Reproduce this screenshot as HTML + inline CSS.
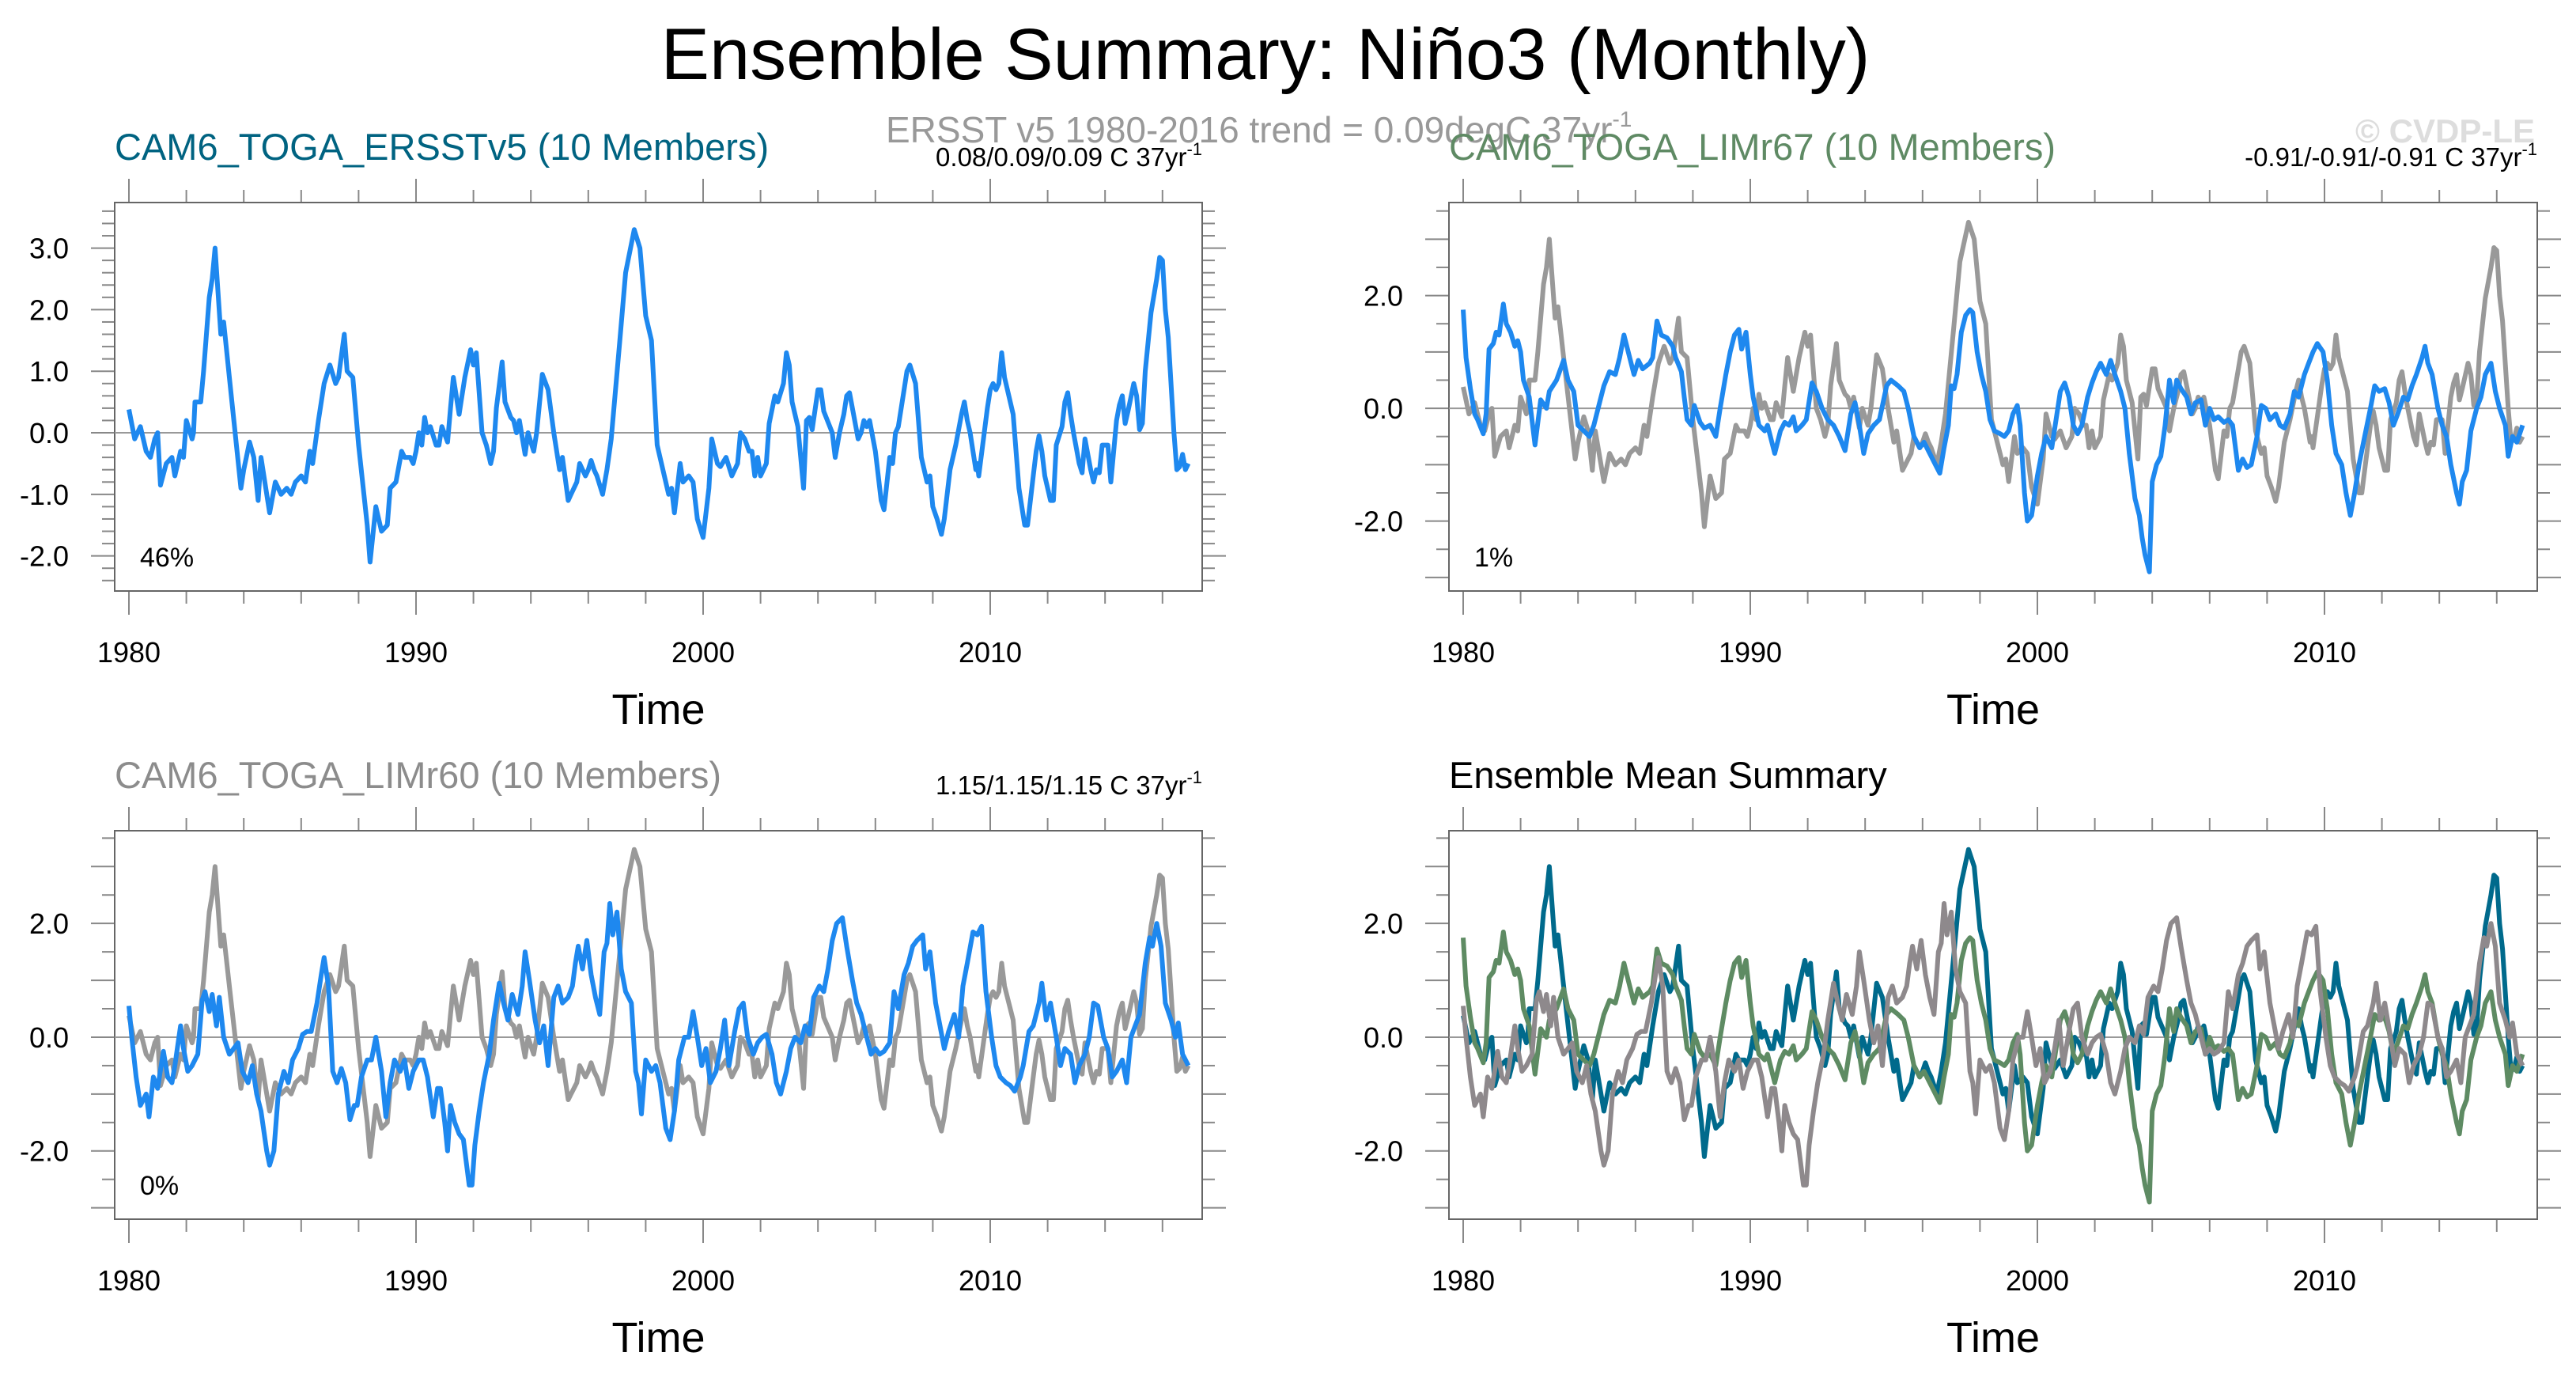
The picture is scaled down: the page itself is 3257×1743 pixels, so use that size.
<!DOCTYPE html>
<html><head><meta charset="utf-8">
<style>
html,body{margin:0;padding:0;background:#fff;}
svg{display:block;font-family:"Liberation Sans",sans-serif;}
</style></head>
<body>
<svg id="chart" width="3257" height="1743" viewBox="0 0 3257 1743" xmlns="http://www.w3.org/2000/svg">
<rect width="3257" height="1743" fill="#fff"/>
<text x="1600" y="100" font-size="92" text-anchor="middle" fill="#000">Ensemble Summary: Niño3 (Monthly)</text>
<text x="1120" y="180" font-size="46" fill="#999">ERSST v5 1980-2016 trend = 0.09degC 37yr<tspan dy="-20" font-size="28">-1</tspan></text>
<text x="3205" y="180" font-size="42" text-anchor="end" fill="#ddd" font-weight="bold">© CVDP-LE</text>
<g id="plots"></g>
</svg>
<script>
// Series A: CAM6_TOGA_ERSSTv5 ensemble mean (also used as observations)
const aT=[1980.0,1980.2,1980.4,1980.6,1980.75,1980.9,1981.0,1981.1,1981.3,1981.5,1981.6,1981.8,1981.9,1982.0,1982.2,1982.25,1982.3,1982.5,1982.6,1982.8,1982.9,1983.0,1983.2,1983.3,1983.5,1983.9,1984.0,1984.2,1984.35,1984.5,1984.6,1984.9,1985.1,1985.3,1985.5,1985.65,1985.8,1986.0,1986.15,1986.3,1986.4,1986.6,1986.8,1987.0,1987.2,1987.3,1987.5,1987.6,1987.8,1988.0,1988.3,1988.4,1988.6,1988.8,1989.0,1989.1,1989.3,1989.5,1989.6,1989.8,1989.9,1990.0,1990.1,1990.2,1990.3,1990.4,1990.5,1990.7,1990.8,1990.9,1991.1,1991.2,1991.3,1991.5,1991.7,1991.9,1992.0,1992.1,1992.3,1992.45,1992.6,1992.7,1992.8,1993.0,1993.1,1993.3,1993.4,1993.5,1993.6,1993.8,1993.9,1994.1,1994.2,1994.4,1994.6,1994.8,1995.0,1995.1,1995.3,1995.4,1995.6,1995.7,1995.9,1996.0,1996.1,1996.2,1996.3,1996.5,1996.65,1996.8,1997.1,1997.3,1997.6,1997.8,1998.0,1998.2,1998.4,1998.5,1998.8,1998.9,1999.0,1999.2,1999.3,1999.5,1999.65,1999.8,2000.0,2000.2,2000.3,2000.5,2000.6,2000.8,2001.0,2001.2,2001.3,2001.45,2001.6,2001.7,2001.8,2001.9,2002.0,2002.2,2002.3,2002.5,2002.6,2002.8,2002.9,2003.0,2003.1,2003.3,2003.5,2003.6,2003.7,2003.8,2004.0,2004.1,2004.2,2004.5,2004.6,2004.75,2004.9,2005.0,2005.1,2005.4,2005.5,2005.6,2005.7,2005.8,2006.0,2006.2,2006.3,2006.5,2006.6,2006.7,2006.8,2007.0,2007.1,2007.2,2007.4,2007.6,2007.8,2007.9,2008.0,2008.15,2008.3,2008.4,2008.6,2008.8,2009.0,2009.1,2009.2,2009.3,2009.5,2009.55,2009.6,2009.9,2010.0,2010.1,2010.2,2010.3,2010.4,2010.5,2010.8,2011.0,2011.2,2011.3,2011.5,2011.6,2011.7,2011.8,2011.9,2012.1,2012.2,2012.3,2012.5,2012.6,2012.7,2012.8,2012.9,2013.1,2013.2,2013.3,2013.5,2013.6,2013.7,2013.8,2013.9,2014.0,2014.1,2014.2,2014.4,2014.5,2014.6,2014.7,2014.8,2015.0,2015.1,2015.2,2015.3,2015.4,2015.6,2015.8,2015.9,2016.0,2016.1,2016.2,2016.4,2016.5,2016.6,2016.7,2016.8,2016.9];
const aV=[0.38,-0.1,0.1,-0.3,-0.4,-0.1,0.0,-0.85,-0.5,-0.4,-0.7,-0.3,-0.4,0.2,-0.1,0.0,0.5,0.5,1.0,2.2,2.5,3.0,1.6,1.8,0.9,-0.9,-0.6,-0.15,-0.4,-1.1,-0.4,-1.3,-0.8,-1.0,-0.9,-1.0,-0.8,-0.7,-0.8,-0.3,-0.5,0.2,0.8,1.1,0.8,0.9,1.6,1.0,0.9,-0.2,-1.5,-2.1,-1.2,-1.6,-1.5,-0.9,-0.8,-0.3,-0.4,-0.4,-0.5,-0.3,0.0,-0.2,0.25,0.0,0.1,-0.2,-0.2,0.1,-0.15,0.4,0.9,0.3,0.9,1.35,1.1,1.3,0.0,-0.2,-0.5,-0.3,0.4,1.15,0.5,0.25,0.2,0.0,0.2,-0.35,0.0,-0.3,0.0,0.95,0.7,0.0,-0.6,-0.4,-1.1,-1.0,-0.8,-0.5,-0.7,-0.6,-0.45,-0.6,-0.7,-1.0,-0.6,-0.1,1.5,2.6,3.3,3.0,1.9,1.5,-0.2,-0.4,-1.0,-0.9,-1.3,-0.5,-0.8,-0.7,-0.8,-1.4,-1.7,-0.9,-0.1,-0.5,-0.55,-0.4,-0.7,-0.5,0.0,-0.1,-0.3,-0.3,-0.7,-0.4,-0.7,-0.5,0.15,0.6,0.5,0.8,1.3,1.1,0.5,0.1,-0.9,0.2,0.25,0.05,0.7,0.7,0.35,0.0,-0.4,0.0,0.3,0.6,0.65,-0.1,0.0,0.2,0.1,0.2,-0.3,-1.1,-1.25,-0.4,-0.5,0.0,0.1,0.7,1.0,1.1,0.8,-0.4,-0.8,-0.7,-1.2,-1.4,-1.65,-1.4,-0.6,-0.2,0.3,0.5,0.2,0.0,-0.6,-0.5,-0.7,0.4,0.7,0.8,0.7,0.8,1.3,0.9,0.3,-0.9,-1.5,-1.5,-0.7,-0.3,-0.05,-0.3,-0.7,-1.1,-1.1,-0.2,0.1,0.5,0.65,0.3,0.0,-0.5,-0.65,-0.1,-0.6,-0.8,-0.6,-0.65,-0.2,-0.2,-0.2,-0.8,0.2,0.45,0.6,0.15,0.35,0.8,0.6,0.05,0.15,1.0,1.95,2.5,2.85,2.8,2.0,1.55,0.0,-0.6,-0.55,-0.35,-0.6,-0.5];
// Series B: CAM6_TOGA_LIMr67 ensemble mean
const bT=[1980.0,1980.1,1980.25,1980.4,1980.5,1980.7,1980.8,1980.9,1981.05,1981.15,1981.25,1981.4,1981.5,1981.65,1981.8,1981.9,1982.0,1982.1,1982.3,1982.5,1982.7,1982.9,1983.0,1983.25,1983.5,1983.65,1983.85,1984.0,1984.2,1984.4,1984.55,1984.7,1984.9,1985.1,1985.3,1985.45,1985.6,1985.75,1985.95,1986.1,1986.25,1986.5,1986.6,1986.75,1986.9,1987.1,1987.3,1987.4,1987.6,1987.7,1987.8,1987.95,1988.05,1988.25,1988.4,1988.6,1988.8,1988.95,1989.15,1989.3,1989.45,1989.6,1989.7,1989.85,1990.0,1990.1,1990.3,1990.5,1990.6,1990.85,1991.05,1991.2,1991.35,1991.5,1991.6,1991.8,1991.95,1992.15,1992.3,1992.5,1992.7,1992.9,1993.1,1993.3,1993.5,1993.65,1993.8,1993.95,1994.1,1994.3,1994.5,1994.75,1994.9,1995.15,1995.35,1995.5,1995.7,1995.9,1996.05,1996.25,1996.45,1996.6,1996.75,1996.9,1997.0,1997.1,1997.2,1997.35,1997.5,1997.65,1997.75,1997.9,1998.05,1998.2,1998.35,1998.5,1998.7,1998.85,1999.0,1999.15,1999.3,1999.4,1999.55,1999.65,1999.8,2000.0,2000.15,2000.3,2000.5,2000.65,2000.8,2000.95,2001.1,2001.25,2001.4,2001.55,2001.75,2001.9,2002.05,2002.2,2002.4,2002.55,2002.7,2002.9,2003.05,2003.2,2003.4,2003.55,2003.65,2003.75,2003.9,2004.0,2004.15,2004.3,2004.45,2004.6,2004.75,2004.85,2005.0,2005.2,2005.35,2005.5,2005.7,2005.85,2006.0,2006.15,2006.3,2006.5,2006.65,2006.8,2007.0,2007.15,2007.3,2007.45,2007.65,2007.8,2007.95,2008.1,2008.3,2008.45,2008.6,2008.8,2008.95,2009.1,2009.3,2009.45,2009.6,2009.75,2009.95,2010.1,2010.25,2010.4,2010.6,2010.75,2010.9,2011.05,2011.2,2011.4,2011.6,2011.75,2011.9,2012.1,2012.25,2012.4,2012.55,2012.75,2012.9,2013.05,2013.2,2013.4,2013.5,2013.6,2013.75,2013.95,2014.1,2014.25,2014.4,2014.6,2014.7,2014.8,2014.95,2015.1,2015.3,2015.45,2015.6,2015.8,2015.95,2016.1,2016.3,2016.4,2016.55,2016.7,2016.9];
const bV=[1.75,0.9,0.35,-0.1,-0.2,-0.45,-0.1,1.05,1.15,1.35,1.3,1.85,1.5,1.35,1.1,1.2,1.0,0.5,0.2,-0.65,0.15,0.0,0.3,0.5,0.85,0.5,0.3,-0.3,-0.4,-0.5,-0.3,0.0,0.4,0.65,0.6,0.9,1.3,1.0,0.6,0.85,0.7,0.8,0.9,1.55,1.3,1.25,1.1,0.9,0.65,0.2,-0.2,-0.3,0.05,-0.25,-0.35,-0.3,-0.5,0.0,0.6,1.0,1.3,1.4,1.05,1.35,0.6,0.2,-0.3,-0.4,-0.3,-0.8,-0.4,-0.25,-0.3,-0.15,-0.4,-0.3,-0.2,0.45,0.3,0.0,-0.2,-0.3,-0.5,-0.75,-0.1,0.1,-0.3,-0.8,-0.45,-0.3,-0.2,0.4,0.5,0.4,0.3,0.0,-0.5,-0.7,-0.6,-0.8,-1.0,-1.15,-0.7,-0.3,0.4,0.35,0.6,1.35,1.65,1.75,1.7,1.0,0.6,0.3,-0.2,-0.4,-0.45,-0.5,-0.4,-0.1,0.05,-0.3,-1.5,-2.0,-1.9,-1.2,-0.8,-0.5,-0.7,-0.2,0.3,0.45,0.2,-0.3,-0.45,-0.3,0.2,0.45,0.65,0.8,0.6,0.85,0.6,0.3,0.0,-0.8,-1.6,-1.9,-2.3,-2.6,-2.9,-1.3,-1.0,-0.85,-0.3,0.5,0.1,0.5,0.35,0.2,-0.1,0.1,0.15,-0.3,0.0,-0.2,-0.15,-0.25,-0.2,-0.3,-1.1,-0.9,-1.05,-1.0,-0.5,0.05,0.0,-0.2,-0.1,-0.3,-0.35,-0.1,0.3,0.2,0.6,0.8,1.0,1.15,1.0,0.5,-0.3,-0.8,-1.0,-1.5,-1.9,-1.5,-1.0,-0.5,0.0,0.4,0.3,0.35,0.1,-0.3,-0.1,0.2,0.15,0.4,0.6,0.9,1.1,0.8,0.6,0.0,-0.3,-0.5,-1.0,-1.5,-1.7,-1.3,-1.1,-0.4,0.0,0.2,0.6,0.8,0.3,0.0,-0.3,-0.85,-0.5,-0.6,-0.3];
// Series C: CAM6_TOGA_LIMr60 ensemble mean
const cT=[1980.0,1980.1,1980.25,1980.4,1980.6,1980.7,1980.85,1981.0,1981.2,1981.35,1981.5,1981.6,1981.8,1981.9,1982.05,1982.2,1982.4,1982.55,1982.65,1982.8,1982.9,1983.05,1983.15,1983.3,1983.5,1983.65,1983.8,1983.95,1984.15,1984.3,1984.45,1984.6,1984.8,1984.9,1985.05,1985.2,1985.4,1985.55,1985.7,1985.9,1986.05,1986.2,1986.35,1986.55,1986.7,1986.8,1986.95,1987.1,1987.25,1987.4,1987.55,1987.7,1987.85,1987.95,1988.1,1988.3,1988.45,1988.6,1988.8,1988.95,1989.1,1989.25,1989.45,1989.6,1989.75,1989.9,1990.1,1990.25,1990.4,1990.6,1990.75,1990.85,1991.0,1991.1,1991.2,1991.35,1991.5,1991.65,1991.85,1991.95,1992.05,1992.2,1992.35,1992.55,1992.7,1992.9,1993.05,1993.2,1993.35,1993.55,1993.7,1993.8,1993.95,1994.15,1994.3,1994.45,1994.6,1994.8,1994.95,1995.1,1995.3,1995.45,1995.55,1995.65,1995.8,1995.95,1996.1,1996.25,1996.4,1996.55,1996.65,1996.75,1996.85,1997.0,1997.15,1997.3,1997.5,1997.65,1997.75,1997.85,1998.0,1998.2,1998.35,1998.5,1998.7,1998.85,1999.0,1999.15,1999.35,1999.5,1999.65,1999.8,1999.95,2000.1,2000.25,2000.45,2000.6,2000.75,2000.9,2001.1,2001.25,2001.4,2001.55,2001.75,2001.9,2002.05,2002.2,2002.4,2002.55,2002.7,2002.9,2003.05,2003.2,2003.4,2003.55,2003.7,2003.85,2004.05,2004.2,2004.35,2004.5,2004.65,2004.85,2005.0,2005.2,2005.35,2005.5,2005.7,2005.85,2006.0,2006.15,2006.3,2006.5,2006.65,2006.8,2007.0,2007.15,2007.3,2007.45,2007.65,2007.75,2007.9,2008.1,2008.25,2008.4,2008.55,2008.75,2008.9,2009.05,2009.2,2009.4,2009.55,2009.7,2009.85,2010.05,2010.2,2010.35,2010.55,2010.7,2010.85,2011.05,2011.15,2011.35,2011.5,2011.7,2011.8,2011.95,2012.1,2012.3,2012.45,2012.6,2012.8,2012.95,2013.1,2013.3,2013.45,2013.6,2013.75,2013.95,2014.1,2014.25,2014.4,2014.6,2014.75,2014.9,2015.05,2015.2,2015.4,2015.55,2015.65,2015.8,2015.95,2016.1,2016.3,2016.45,2016.55,2016.7,2016.9];
const cV=[0.55,0.0,-0.7,-1.2,-1.0,-1.4,-0.7,-0.9,-0.25,-0.7,-0.8,-0.5,0.2,-0.2,-0.6,-0.5,-0.3,0.65,0.8,0.45,0.75,0.2,0.7,0.0,-0.3,-0.2,-0.1,-0.6,-0.8,-0.5,-1.0,-1.3,-2.0,-2.25,-2.0,-1.0,-0.6,-0.8,-0.4,-0.2,0.05,0.1,0.1,0.6,1.1,1.4,0.9,-0.6,-0.8,-0.55,-0.8,-1.45,-1.2,-1.2,-0.7,-0.4,-0.4,0.0,-0.6,-1.4,-0.8,-0.4,-0.6,-0.4,-0.9,-0.6,-0.4,-0.4,-0.7,-1.4,-0.9,-0.9,-1.5,-2.0,-1.2,-1.5,-1.7,-1.8,-2.6,-2.6,-1.9,-1.3,-0.8,-0.3,0.3,0.95,0.6,0.3,0.75,0.4,0.9,1.5,1.0,0.3,-0.1,0.2,-0.5,0.7,0.9,0.6,0.7,0.9,1.3,1.6,1.2,1.7,1.1,0.7,0.4,1.5,1.65,2.35,1.8,2.2,1.2,0.8,0.6,-0.6,-0.8,-1.35,-0.4,-0.6,-0.5,-0.8,-1.6,-1.8,-1.3,-0.4,0.0,0.0,0.45,0.0,-0.5,-0.2,-0.8,-0.6,-0.2,0.3,-0.5,0.1,0.5,0.6,0.0,-0.3,-0.1,0.0,0.05,-0.3,-0.8,-1.0,-0.6,-0.2,0.0,-0.1,0.2,0.05,0.7,0.9,0.8,1.2,1.7,2.0,2.1,1.6,1.0,0.6,0.4,0.0,-0.3,-0.2,-0.3,-0.25,-0.1,0.8,0.5,1.1,1.3,1.6,1.7,1.8,1.2,1.5,0.6,0.2,-0.2,0.1,0.4,0.0,0.9,1.3,1.85,1.8,1.95,0.8,0.0,-0.5,-0.7,-0.8,-0.85,-0.95,-0.7,-0.5,0.1,0.2,0.6,0.95,0.3,0.6,0.0,-0.5,-0.2,-0.3,-0.8,-0.5,-0.3,0.0,0.6,0.55,0.0,-0.2,-0.7,-0.6,-0.4,-0.8,0.0,0.2,0.4,1.3,1.75,1.6,2.0,1.6,0.6,0.3,0.0,0.25,-0.3,-0.5];
// Axis tick labels
const xTickYears=[1980,1990,2000,2010];
const yTicks1=[-2,-1,0,1,2,3];
const yTicks2=[-2,0,2];

const NS="http://www.w3.org/2000/svg";
const root=document.getElementById('plots');
function mk(tag,attrs,parent){const e=document.createElementNS(NS,tag);for(const k in attrs)e.setAttribute(k,attrs[k]);(parent||root).appendChild(e);return e;}

const C_BLUE="#1e88ef",C_OBS="#999999",C_TEAL="#006a8c",C_GREEN="#5e8b63",C_GRAY="#8e898c";

const panels=[
 {id:'ersst',x0:145,x1:1520,y0:256,y1:747,ymin:-2.57,ymax:3.74,major:yTicks1,minorStep:0.2,
  title:'CAM6_TOGA_ERSSTv5 (10 Members)',tcolor:'#006381',trend:'0.08/0.09/0.09 C 37yr',pct:'46%',
  series:[[aT,aV,C_BLUE]]},
 {id:'limr67',x0:1832,x1:3208,y0:256,y1:747,ymin:-3.24,ymax:3.65,major:yTicks2,minorStep:0.5,
  title:'CAM6_TOGA_LIMr67 (10 Members)',tcolor:'#5f8a64',trend:'-0.91/-0.91/-0.91 C 37yr',pct:'1%',
  series:[[aT,aV,C_OBS],[bT,bV,C_BLUE]]},
 {id:'limr60',x0:145,x1:1520,y0:1050,y1:1541,ymin:-3.2,ymax:3.63,major:yTicks2,minorStep:0.5,
  title:'CAM6_TOGA_LIMr60 (10 Members)',tcolor:'#8c8c8c',trend:'1.15/1.15/1.15 C 37yr',pct:'0%',
  series:[[aT,aV,C_OBS],[cT,cV,C_BLUE]]},
 {id:'ens-mean',x0:1832,x1:3208,y0:1050,y1:1541,ymin:-3.2,ymax:3.63,major:yTicks2,minorStep:0.5,
  title:'Ensemble Mean Summary',tcolor:'#000',trend:null,pct:null,
  series:[[aT,aV,C_TEAL],[bT,bV,C_GREEN],[cT,cV,C_GRAY]]}
];

panels.forEach(p=>{
  const g=mk('g',{});
  
  
  const xs=yr=>p.x0+18+(yr-1980)*36.3;
  const ys=v=>p.y1-(v-p.ymin)/(p.ymax-p.ymin)*(p.y1-p.y0);
  const tk="#888";
  for(let y=1980;y<=2016;y+=2){
    const maj=(y%10===0), L=maj?30:16;
    const x=xs(y);
    const t1=mk('line',{x1:x,x2:x,y1:p.y0,y2:p.y0-L,stroke:tk,'stroke-width':2},g);
    
    
    const t2=mk('line',{x1:x,x2:x,y1:p.y1,y2:p.y1+L,stroke:tk,'stroke-width':2},g);
    
    
  }
  xTickYears.forEach(y=>{
    const t=mk('text',{x:xs(y),y:p.y1+90,'font-size':36,'text-anchor':'middle',fill:'#000'},g);
    t.textContent=y;
    
    
  });
  const xt=mk('text',{x:(p.x0+p.x1)/2,y:p.y1+168,'font-size':54,'text-anchor':'middle',fill:'#000'},g);
  xt.textContent='Time';
  
  
  const start=Math.ceil(p.ymin/p.minorStep)*p.minorStep;
  for(let v=start;v<=p.ymax+1e-9;v+=p.minorStep){
    const vv=Math.round(v*100)/100;
    const maj=p.major.includes(vv)||(p.minorStep===0.5&&Math.abs(vv%1)<1e-9);
    const L=maj?30:16, y=ys(vv);
    const l1=mk('line',{x1:p.x0,x2:p.x0-L,y1:y,y2:y,stroke:tk,'stroke-width':2},g);
    
    
    const l2=mk('line',{x1:p.x1,x2:p.x1+L,y1:y,y2:y,stroke:tk,'stroke-width':2},g);
    
    
  }
  p.major.forEach(v=>{
    const t=mk('text',{x:p.x0-58,y:ys(v)+13,'font-size':36,'text-anchor':'end',fill:'#000'},g);
    t.textContent=v.toFixed(1);
    
    
  });
  const fr=mk('rect',{x:p.x0,y:p.y0,width:p.x1-p.x0,height:p.y1-p.y0,fill:'none',stroke:'#666','stroke-width':2},g);
  
  
  const z=mk('line',{x1:p.x0,x2:p.x1,y1:ys(0),y2:ys(0),stroke:'#999','stroke-width':2},g);
  
  
  p.series.forEach((s,i)=>{
    const [T,V,col]=s;
    let d='';
    for(let k=0;k<T.length;k++) d+=(k?'L':'M')+xs(T[k]).toFixed(1)+','+ys(V[k]).toFixed(1);
    const path=mk('path',{d:d,fill:'none',stroke:col,'stroke-width':6,'stroke-linejoin':'round'},g);
    
    
  });
  const ti=mk('text',{x:p.x0,y:p.y0-54,'font-size':47,fill:p.tcolor},g);
  ti.textContent=p.title;
  
  
  if(p.trend){
    const tr=mk('text',{x:p.x1,y:p.y0-46,'font-size':33,'text-anchor':'end',fill:'#000'},g);
    tr.textContent=p.trend;
    const sup=mk('tspan',{dy:-14,'font-size':22},tr);
    sup.textContent='-1';
    
    
  }
  if(p.pct){
    const pc=mk('text',{x:p.x0+32,y:p.y1-31,'font-size':34,fill:'#000'},g);
    pc.textContent=p.pct;
    
    
  }
});
</script>
</body></html>
